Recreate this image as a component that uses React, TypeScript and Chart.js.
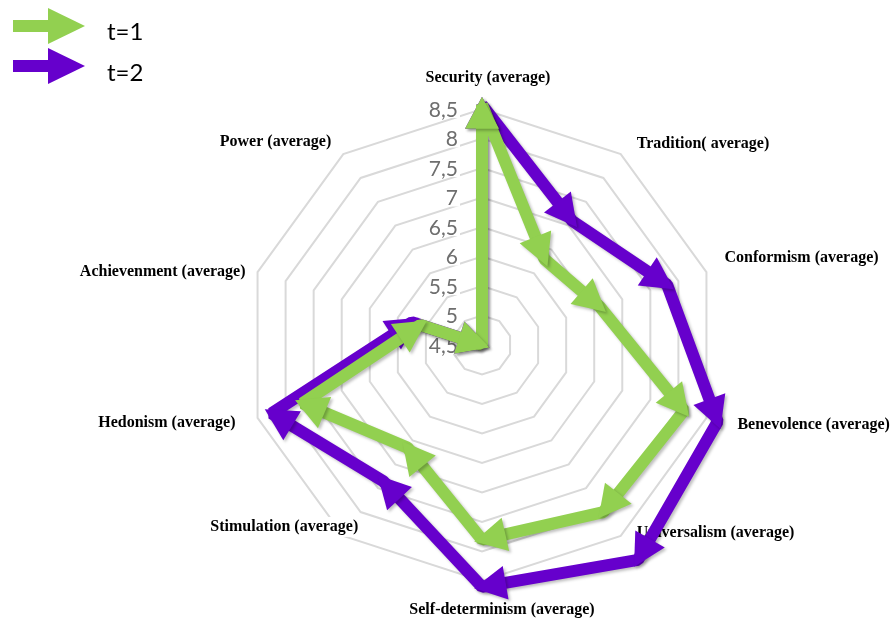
import React, { useEffect, useRef } from "react";
import { Chart, registerables } from "chart.js";

Chart.register(...registerables);

// ---- data ----
const categories = [
  "Security (average)",
  "Tradition( average)",
  "Conformism (average)",
  "Benevolence (average)",
  "Universalism (average)",
  "Self-determinism (average)",
  "Stimulation (average)",
  "Hedonism (average)",
  "Achievenment (average)",
  "Power (average)",
];
const seriesNames = ["t=1", "t=2"];
const seriesT1 = [8.57, 6.3, 6.6, 8.1, 8.0, 7.8, 6.65, 7.7, 5.6, 4.5];
const seriesT2 = [8.57, 7.1, 7.8, 8.7, 9.0, 8.6, 7.35, 8.25, 5.75, 4.5];
const axisMin = 4.5;
const axisMax = 8.5;
const axisStep = 0.5;

// ---- styles ----
const GREEN = "#92D050";
const PURPLE = "#6600CC";

const labelStyle: { align: CanvasTextAlign; dx: number; dy: number }[] = [
  { align: "center", dx: 6, dy: -31 },
  { align: "left", dx: 16, dy: -10 },
  { align: "left", dx: 18, dy: -14 },
  { align: "left", dx: 31, dy: 7 },
  { align: "left", dx: 16, dy: -3 },
  { align: "center", dx: 20, dy: 29 },
  { align: "right", dx: 15, dy: -9 },
  { align: "right", dx: -22, dy: 5 },
  { align: "right", dx: -12, dy: 0 },
  { align: "right", dx: -12, dy: -12 },
];

const ARROW_LEN = 32;
const ARROW_HALF = 17;
const ARROW_EXT = 8;

function drawArrowHead(ctx: CanvasRenderingContext2D, fx: number, fy: number, tx: number, ty: number) {
  const dx = tx - fx;
  const dy = ty - fy;
  const len = Math.hypot(dx, dy);
  if (len < 2) return;
  const ux = dx / len;
  const uy = dy / len;
  const tipX = tx + ux * ARROW_EXT;
  const tipY = ty + uy * ARROW_EXT;
  const bx = tipX - ux * ARROW_LEN;
  const by = tipY - uy * ARROW_LEN;
  const px = -uy;
  const py = ux;
  ctx.beginPath();
  ctx.moveTo(tipX, tipY);
  ctx.lineTo(bx + px * ARROW_HALF, by + py * ARROW_HALF);
  ctx.lineTo(bx - px * ARROW_HALF, by - py * ARROW_HALF);
  ctx.closePath();
  ctx.fill();
}

const decorPlugin = {
  id: "decor",
  beforeDatasetsDraw(chart: any) {
    const ctx: CanvasRenderingContext2D = chart.ctx;
    const scale = chart.scales.r;
    ctx.save();
    // tick labels
    ctx.font = "21px Lato";
    ctx.textAlign = "right";
    ctx.textBaseline = "middle";
    scale.ticks.forEach((t: any) => {
      const d = scale.getDistanceFromCenterForValue(t.value);
      const x = scale.xCenter - 24;
      const y = scale.yCenter - d;
      const label = String(t.label);
      const w = ctx.measureText(label).width;
      ctx.fillStyle = "#ffffff";
      ctx.fillRect(x - w - 1, y - 8, w + 3, 17);
      ctx.fillStyle = "#6e6e6e";
      ctx.fillText(label, x, y + 1);
    });
    // point labels
    ctx.font = "bold 16px 'Liberation Serif'";
    ctx.textBaseline = "middle";
    chart.data.labels.forEach((lab: string, i: number) => {
      const p = scale.getPointPosition(i, scale.drawingArea);
      const st = labelStyle[i];
      const x = p.x + st.dx;
      const y = p.y + st.dy;
      const w = ctx.measureText(lab).width;
      let left = x;
      if (st.align === "center") left = x - w / 2;
      else if (st.align === "right") left = x - w;
      ctx.fillStyle = "#ffffff";
      ctx.fillRect(left - 3, y - 10, w + 6, 20);
      ctx.fillStyle = "#000000";
      ctx.textAlign = st.align;
      ctx.fillText(lab, x, y);
    });
    ctx.restore();
  },
  beforeDatasetDraw(chart: any) {
    const ctx: CanvasRenderingContext2D = chart.ctx;
    ctx.save();
    ctx.shadowColor = "rgba(0,0,0,0.25)";
    ctx.shadowBlur = 3;
    ctx.shadowOffsetX = 2;
    ctx.shadowOffsetY = 2;
  },
  afterDatasetDraw(chart: any, args: any) {
    const ctx: CanvasRenderingContext2D = chart.ctx;
    const pts = args.meta.data;
    const n = pts.length;
    ctx.fillStyle = chart.data.datasets[args.index].borderColor;
    for (let i = 0; i < n; i++) {
      const a = pts[i];
      const b = pts[(i + 1) % n];
      drawArrowHead(ctx, a.x, a.y, b.x, b.y);
    }
    ctx.restore();
  },
  afterDraw(chart: any) {
    const ctx: CanvasRenderingContext2D = chart.ctx;
    ctx.save();
    const items = [
      { color: GREEN, mid: 26, textY: 32 },
      { color: PURPLE, mid: 66, textY: 73 },
    ];
    items.forEach((it, i) => {
      ctx.fillStyle = it.color;
      ctx.fillRect(13, it.mid - 6, 37, 12);
      ctx.beginPath();
      ctx.moveTo(48, it.mid - 18);
      ctx.lineTo(85, it.mid);
      ctx.lineTo(48, it.mid + 18);
      ctx.closePath();
      ctx.fill();
      ctx.fillStyle = "#000000";
      ctx.font = "24px Lato";
      ctx.textAlign = "left";
      ctx.textBaseline = "middle";
      ctx.fillText(seriesNames[i], 107, it.textY);
    });
    ctx.restore();
  },
};

export default function App() {
  const canvasRef = useRef<HTMLCanvasElement | null>(null);

  useEffect(() => {
    const canvas = canvasRef.current;
    if (!canvas) return;
    const chart = new Chart(canvas, {
      type: "radar",
      data: {
        labels: categories,
        datasets: [
          {
            label: seriesNames[0],
            data: seriesT1,
            borderColor: GREEN,
            backgroundColor: GREEN,
            borderWidth: 12,
            borderJoinStyle: "bevel",
            pointRadius: 0,
            fill: false,
            clip: false,
          } as any,
          {
            label: seriesNames[1],
            data: seriesT2,
            borderColor: PURPLE,
            backgroundColor: PURPLE,
            borderWidth: 12,
            borderJoinStyle: "bevel",
            pointRadius: 0,
            fill: false,
            clip: false,
          } as any,
        ],
      },
      options: {
        responsive: false,
        animation: false,
        devicePixelRatio: 1,
        layout: { padding: { left: 246, top: 109, right: 173, bottom: 43 } },
        plugins: {
          legend: { display: false },
          tooltip: { enabled: false },
        },
        elements: { line: { tension: 0 } },
        scales: {
          r: {
            min: axisMin,
            max: axisMax,
            beginAtZero: false,
            ticks: {
              display: false,
              stepSize: axisStep,
              callback: (v: any) => String(v).replace(".", ","),
            },
            angleLines: { display: false },
            grid: { color: "#d9d9d9", lineWidth: 2 },
            pointLabels: { display: false },
          },
        },
      },
      plugins: [decorPlugin],
    });
    return () => chart.destroy();
  }, []);

  return (
    <div style={{ position: "absolute", left: 0, top: 0, width: 891, height: 624, background: "#ffffff" }}>
      <canvas ref={canvasRef} width={891} height={624} style={{ width: 891, height: 624, display: "block" }} />
    </div>
  );
}
